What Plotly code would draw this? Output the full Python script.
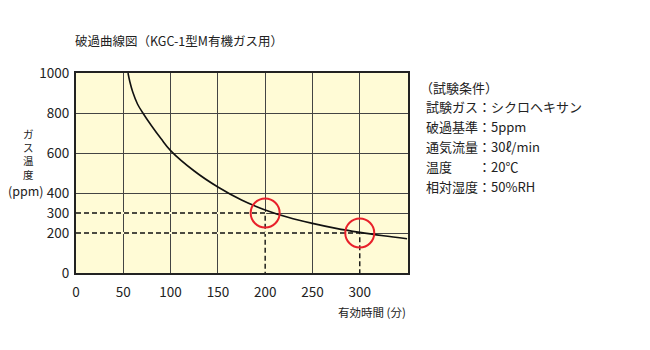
import plotly.graph_objects as go

# Data
time_min = [55, 57, 60, 65, 70, 80, 90, 100, 125, 150, 175, 200, 225, 250, 275, 300, 325, 350]
ppm = [1000, 955, 905, 845, 805, 735, 671, 612, 510, 430, 365, 315, 277, 248, 223, 203, 186, 171]

x_ticks = [0, 50, 100, 150, 200, 250, 300]
y_ticks = [0, 200, 300, 400, 600, 800, 1000]

marked_x = [200, 300]
marked_y = [300, 200]

conditions = [
    "（試験条件）",
    "試験ガス：シクロヘキサン",
    "破過基準：5ppm",
    "通気流量：30ℓ/min",
    "温度　　：20℃",
    "相対湿度：50%RH",
]

FONT = "Noto Sans CJK JP"
TXT = "#222222"
BG = "#fffbd6"

fig = go.Figure()

# dashed reference lines (background-coloured underlay hides the grid, dashed black on top)
for mx, my in zip(marked_x, marked_y):
    for col, dash, w in [(BG, "solid", 2), ("#111111", "5px,3px", 1.4)]:
        fig.add_trace(go.Scatter(x=[0, mx, mx], y=[my, my, 0], mode="lines",
                                 line=dict(color=col, dash=dash, width=w),
                                 hoverinfo="skip", showlegend=False))

fig.add_trace(go.Scatter(x=time_min, y=ppm, mode="lines",
                         line=dict(color="#111111", width=1.6, shape="spline", smoothing=1.0),
                         showlegend=False))

fig.add_trace(go.Scatter(x=marked_x, y=marked_y, mode="markers",
                         marker=dict(symbol="circle-open", size=29, color="#e8202a",
                                     line=dict(width=2, color="#e8202a")),
                         showlegend=False))

fig.update_layout(
    width=650, height=350,
    margin=dict(l=76, r=242, t=73, b=77),
    paper_bgcolor="white",
    plot_bgcolor=BG,
    font=dict(family=FONT, size=13, color=TXT),
    xaxis=dict(range=[0, 351], tickvals=x_ticks, showgrid=True, gridcolor="#444444", gridwidth=1,
               showline=True, linecolor="#222222", linewidth=2, mirror=True, zeroline=False,
               ticks="", ticklabelstandoff=6, tickfont=dict(size=13.5, color=TXT)),
    yaxis=dict(range=[0, 1000], tickvals=y_ticks, showgrid=True, gridcolor="#444444", gridwidth=1,
               showline=True, linecolor="#222222", linewidth=2, mirror=True, zeroline=False,
               ticks="", ticklabelstandoff=2, tickfont=dict(size=13.5, color=TXT)),
    annotations=[
        dict(text="破過曲線図（KGC-1型M有機ガス用）", xref="paper", yref="paper",
             x=-0.01, y=1.0, yshift=33, xanchor="left", yanchor="middle", showarrow=False,
             font=dict(size=12.5, color=TXT)),
        dict(text="ガ<br>ス<br>温<br>度", xref="paper", yref="paper", x=0, xshift=-48,
             y=(273 - 154) / 200, yanchor="middle", xanchor="center", showarrow=False,
             font=dict(size=10.5, color=TXT)),
        dict(text="(ppm)", xref="paper", yref="paper", x=0, xshift=-50,
             y=(273 - 190) / 200, yanchor="middle", xanchor="center", showarrow=False,
             font=dict(size=12.5, color=TXT)),
        dict(text="有効時間 (分)", xref="paper", yref="paper", x=1.0, y=0, yshift=-39,
             xanchor="right", yanchor="middle", showarrow=False,
             font=dict(size=11.5, color=TXT)),
    ],
)

for i, line in enumerate(conditions):
    fig.add_annotation(text=line, xref="paper", yref="paper", x=1.0, xshift=16 if i else 10,
                       y=1.0, yshift=-14 - i * 19.8, xanchor="left", yanchor="middle",
                       showarrow=False, font=dict(size=13, color=TXT))

fig.write_html("out.html")
